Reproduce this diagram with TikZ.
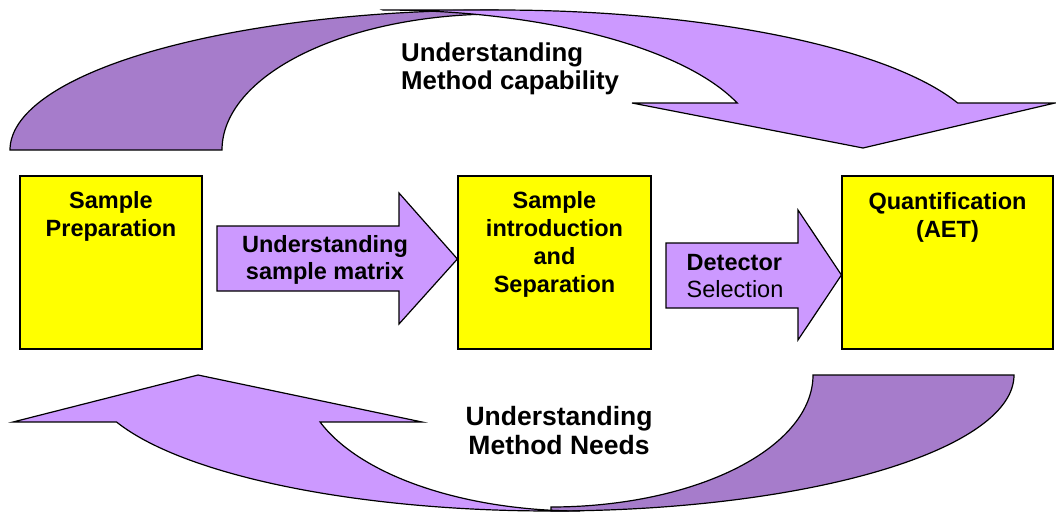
\documentclass[tikz,border=0pt]{standalone}
\usepackage{fontspec}
\setmainfont{Liberation Sans}
\definecolor{lilac}{RGB}{204,153,255}
\definecolor{lilacdark}{RGB}{166,124,203}
\definecolor{boxyellow}{RGB}{255,255,0}
\tikzset{
  ribbonlight/.style={fill=lilac,draw=black,line width=1.2pt,line join=miter},
  ribbondark/.style={fill=lilacdark,draw=black,line width=1.2pt,line join=miter},
  stagebox/.style={fill=boxyellow,draw=black,line width=1.2pt,rectangle,inner sep=0pt},
  blockarrow/.style={fill=lilac,draw=black,line width=1.2pt,line join=miter},
  boxtext/.style={inner sep=0pt,anchor=north,align=center,
    font=\fontsize{23.5}{28}\selectfont\bfseries},
  bigtext/.style={inner sep=0pt,align=center,
    font=\fontsize{26.5}{28.8}\selectfont\bfseries}
}
\begin{document}
\begin{tikzpicture}[x=1pt,y=-1pt]
\useasboundingbox (0,0) rectangle (1056,511);

% upper curved arrow: back of the ribbon, then its front with the head
\filldraw[ribbondark]
  plot[domain=180:90,samples=90] ({498+488*cos(\x)},{150-140*sin(\x)})
  -- plot[domain=90:180,samples=90] ({498+276*cos(\x)},{150-136*sin(\x)})
  -- cycle;
\filldraw[ribbonlight] (383,10)
  -- plot[domain=90:19.6,samples=90] ({498+488*cos(\x)},{150-140*sin(\x)})
  -- (1055,103) -- (863,148) -- (632,103)
  -- plot[domain=19.6:90,samples=90] ({383+376*cos(\x)},{150-140*sin(\x)})
  -- cycle;

% lower curved arrow
\filldraw[ribbondark]
  plot[domain=0:-90,samples=90] ({551+463*cos(\x)},{375-136*sin(\x)})
  -- plot[domain=-90:0,samples=90] ({551+262*cos(\x)},{375-132*sin(\x)})
  -- cycle;
\filldraw[ribbonlight]
  plot[domain=200.2:270,samples=90] ({551+463*cos(\x)},{375-136*sin(\x)})
  -- plot[domain=270:200.2,samples=90] ({580+277*cos(\x)},{375-136*sin(\x)})
  -- (422,422) -- (198,375) -- (13,422) -- cycle;

% stages
\node[stagebox,minimum width=182pt,minimum height=173pt] (prep) at (111,262.5) {};
\node[stagebox,minimum width=193pt,minimum height=173pt] (sep) at (554.5,262.5) {};
\node[stagebox,minimum width=211pt,minimum height=173pt] (quant) at (947.5,262.5) {};

% block arrows between the stages
\filldraw[blockarrow] (217,226) -- (399,226) -- (399,193) -- (sep.west |- 0,259)
  -- (399,324) -- (399,291) -- (217,291) -- cycle;
\filldraw[blockarrow] (666,243) -- (798,243) -- (798,210) -- (quant.west |- 0,275)
  -- (798,340) -- (798,308) -- (666,308) -- cycle;

% labels
\node[boxtext] (prept) at (111,188.4) {\strut Sample\\Preparation};
\node[boxtext] (sept) at (554.5,188.4) {\strut Sample\\introduction\\and\\Separation};
\node[boxtext] (quantt) at (947.5,189.4) {\strut Quantification\\(AET)};

\node[inner sep=0pt,anchor=north,align=center,
  font=\fontsize{23.5}{26.6}\selectfont\bfseries] (matrixt) at (325,234.1)
  {\strut Understanding\\sample matrix};
\node[inner sep=0pt,anchor=north west,align=left,
  font=\fontsize{23.5}{27}\selectfont] (dett) at (686.5,251.1)
  {\strut\textbf{Detector}\\Selection};

\node[bigtext,anchor=north west,align=left,font=\fontsize{25.8}{27.6}\selectfont\bfseries]
  (capt) at (401,42.4) {\strut Understanding\\Method capability};
\node[bigtext,anchor=north] (needt) at (559,405.3) {\strut Understanding\\Method Needs};
\end{tikzpicture}
\end{document}
